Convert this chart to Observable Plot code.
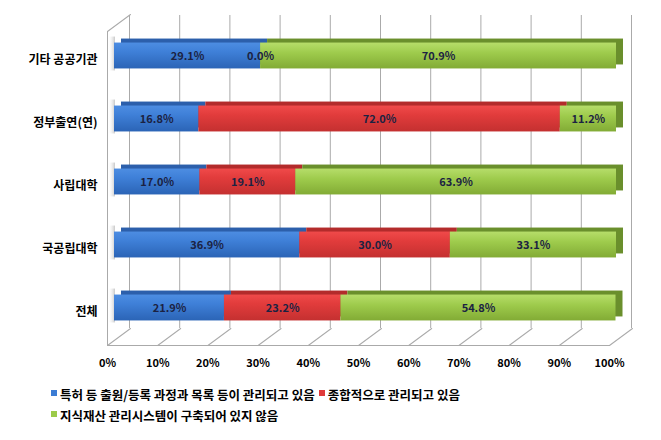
<!DOCTYPE html>
<html>
<head>
<meta charset="utf-8">
<script src="https://cdn.jsdelivr.net/npm/d3@7"></script>
<script src="https://cdn.jsdelivr.net/npm/@observablehq/plot@0.6"></script>
<style>
  body { margin: 0; background: #fff; }
  #chart svg { display: block; }
  #legend { margin-left: 51px; width: 470px; padding-top: 4px; font: bold 12.5px "Noto Sans CJK KR", sans-serif; line-height: 21px; color: #000; }
  #legend .item { display: inline-block; margin-right: 4px; white-space: nowrap; }
  #legend .sw { display: inline-block; width: 6px; height: 6px; margin-right: 3px; position: relative; top: -4px; }
</style>
</head>
<body>
<div id="chart"></div>
<div id="legend"></div>
<script>
const categories = ["기타 공공기관", "정부출연(연)", "사립대학", "국공립대학", "전체"];
const seriesNames = [
  "특허 등 출원/등록 과정과 목록 등이 관리되고 있음",
  "종합적으로 관리되고 있음",
  "지식재산 관리시스템이 구축되어 있지 않음"
];
const registered = [29.1, 16.8, 17.0, 36.9, 21.9];
const integrated = [0.0, 72.0, 19.1, 30.0, 23.2];
const notBuilt = [70.9, 11.2, 63.9, 33.1, 54.8];
const xTicks = [0, 10, 20, 30, 40, 50, 60, 70, 80, 90, 100];

const seriesValues = [registered, integrated, notBuilt];
const rows = [];
categories.forEach((c, i) => {
  let cum = 0;
  seriesValues.forEach((vals, s) => {
    const v = vals[i];
    rows.push({category: c, series: s, value: v, x1: cum, x2: cum + v});
    cum += v;
  });
});

const frontFill = ["url(#gBlue)", "url(#gRed)", "url(#gGreen)"];
const topFill = ["#2c5fab", "#b32b2b", "#6a8f2c"];
const swatch = ["#3b7cd4", "#e03a3a", "#9ccb4a"];
const grid = "#aaaaaa";
const font = "'Noto Sans CJK KR', sans-serif";
const lineShape = {draw(ctx, l) { ctx.moveTo(0, 0); ctx.lineTo(0, -l); }};
const barInset = 18.55;

const marks = [
  // back wall gridlines
  Plot.ruleX(xTicks, {x: d => d, dx: 15, insetTop: -8.5, insetBottom: 11, stroke: grid}),
  // floor diagonals
  Plot.vector(xTicks, {x: d => d, frameAnchor: "bottom", dx: -7, dy: 6, length: 28.6, rotate: 53.5, anchor: "start", r: 0, shape: lineShape, stroke: grid, strokeWidth: 1}),
  // left wall top diagonal
  Plot.vector([0], {x: d => d, frameAnchor: "top", dx: -7, dy: 7.5, length: 28.6, rotate: 53.5, anchor: "start", r: 0, shape: lineShape, stroke: grid, strokeWidth: 1}),
  // left wall front edge
  Plot.ruleX([0], {x: d => d, dx: -7, insetTop: 7.5, insetBottom: -6, stroke: grid}),
  // floor front edge
  Plot.frame({anchor: "bottom", dx: -7, dy: 6, stroke: grid}),
  // soft shadow at the left end of each bar
  Plot.barX(categories, {x1: 0, x2: 0, y: d => d, insetLeft: -6, insetRight: -1, insetTop: barInset - 6, insetBottom: barInset - 2, fill: "url(#gShadow)"})
];
// 3D depth (top + end faces)
for (let s = 0; s < 3; s++) {
  marks.push(Plot.barX(rows.filter(d => d.series === s), {x1: "x1", x2: "x2", y: "category", insetTop: barInset, insetBottom: barInset, dx: 7, dy: -4, fill: topFill[s]}));
}
// front faces
for (let s = 0; s < 3; s++) {
  marks.push(Plot.barX(rows.filter(d => d.series === s), {x1: "x1", x2: "x2", y: "category", insetTop: barInset, insetBottom: barInset, fill: frontFill[s]}));
}
marks.push(
  Plot.text(rows, {x: d => (d.x1 + d.x2) / 2, y: "category", text: d => d.value.toFixed(1) + "%", fontSize: 11, fontWeight: "bold", fill: "#1b2242"}),
  Plot.axisX({ticks: xTicks, tickFormat: d => d + "%", tickSize: 0, tickPadding: 20, dx: -7, fontSize: 11, fontWeight: "bold", fill: "#000"}),
  Plot.axisY({tickSize: 0, tickPadding: 17, dy: 4, fontSize: 12, fontWeight: "bold", fill: "#000"})
);

const svg = Plot.plot({
  width: 661,
  height: 380,
  marginLeft: 114,
  marginRight: 45,
  marginTop: 23.5,
  marginBottom: 41,
  style: {fontFamily: font, background: "#fff", color: "#000"},
  x: {domain: [0, 100], label: null},
  y: {domain: categories, padding: 0, label: null},
  marks
});

const defs = d3.select(svg).insert("defs", ":first-child");
const grads = [
  ["gBlue", [[0, "#4d8de2"], [0.35, "#3f80d8"], [1, "#2b64b6"]]],
  ["gRed", [[0, "#f04a4a"], [0.35, "#e23c3c"], [1, "#c43030"]]],
  ["gGreen", [[0, "#b6dd6a"], [0.4, "#9ecb4c"], [1, "#82ab35"]]]
];
for (const [id, stops] of grads) {
  const g = defs.append("linearGradient").attr("id", id).attr("x1", 0).attr("y1", 0).attr("x2", 0).attr("y2", 1);
  for (const [o, c] of stops) g.append("stop").attr("offset", o).attr("stop-color", c);
}
const sh = defs.append("linearGradient").attr("id", "gShadow").attr("x1", 0).attr("y1", 0).attr("x2", 1).attr("y2", 0);
sh.append("stop").attr("offset", 0).attr("stop-color", "#ffffff").attr("stop-opacity", 0);
sh.append("stop").attr("offset", 1).attr("stop-color", "#bbbbbb").attr("stop-opacity", 0.8);
document.getElementById("chart").appendChild(svg);

const legend = document.getElementById("legend");
seriesNames.forEach((name, i) => {
  const item = document.createElement("span");
  item.className = "item";
  const sw = document.createElement("span");
  sw.className = "sw";
  sw.style.background = swatch[i];
  item.appendChild(sw);
  item.appendChild(document.createTextNode(name));
  legend.appendChild(item);
});
</script>
</body>
</html>
